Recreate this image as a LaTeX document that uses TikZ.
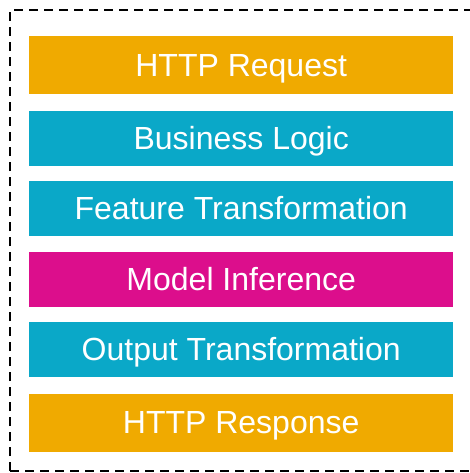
\documentclass[tikz,border=0pt]{standalone}
\usepackage{fontspec}
\setmainfont{Liberation Sans}
\definecolor{corange}{RGB}{240,170,0}
\definecolor{cteal}{RGB}{10,168,200}
\definecolor{cmag}{RGB}{220,14,140}
\begin{document}
\begin{tikzpicture}[x=1pt,y=-1pt,
  layer/.style={minimum width=424pt,minimum height=55pt,inner sep=0pt,
    text height=23pt,text depth=1pt,
    text=white,font=\fontsize{32}{36}\selectfont,anchor=north west},
  tall/.style={minimum height=58pt}]
\useasboundingbox (0,0) rectangle (469,473);
\draw[line width=2.6pt,dash pattern=on 9pt off 6pt] (10,471) -- (10,10) -- (480,10) (10,471) -- (480,471);
\node[layer,tall,fill=corange] (req) at (29,36) {HTTP Request};
\node[layer,fill=cteal] (biz) at (29,110.5) {Business Logic};
\node[layer,fill=cteal] (feat) at (29,181) {Feature Transformation};
\node[layer,fill=cmag] (inf) at (29,251.5) {Model Inference};
\node[layer,fill=cteal] (out) at (29,322) {Output Transformation};
\node[layer,tall,fill=corange] (resp) at (29,393.5) {HTTP Response};
\end{tikzpicture}
\end{document}
